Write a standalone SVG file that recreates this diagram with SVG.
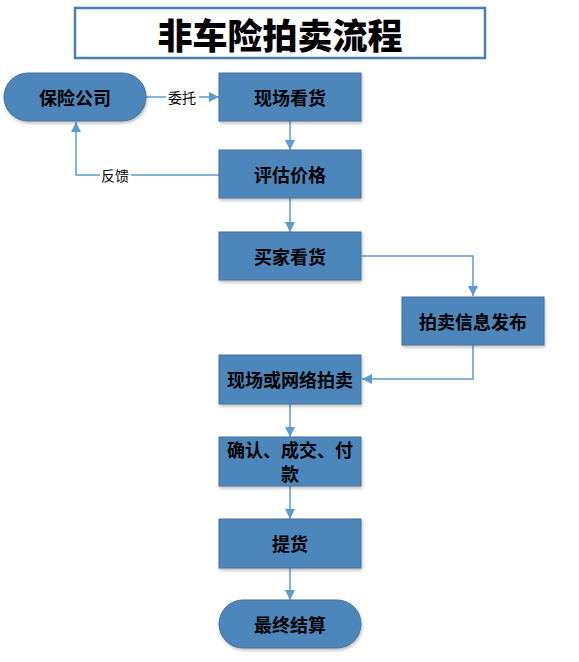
<svg xmlns="http://www.w3.org/2000/svg" width="579" height="662" viewBox="0 0 579 662">
<defs>
<marker id="arr" viewBox="0 0 10 10" refX="10" refY="5" markerWidth="10" markerHeight="10" markerUnits="userSpaceOnUse" orient="auto">
<path d="M0,0 L10,5 L0,10 z" fill="#5b9bd5"/>
</marker>
<filter id="sh" x="-10%" y="-10%" width="125%" height="130%">
<feDropShadow dx="1" dy="2" stdDeviation="1.5" flood-color="#000" flood-opacity="0.25"/>
</filter>
</defs>
<style>
.n{fill:#4e86ba;stroke:#41719c;stroke-width:1;filter:url(#sh)}
.t{font-family:"Noto Sans CJK SC","Microsoft YaHei",sans-serif;font-weight:bold;font-size:18px;fill:#000;text-anchor:middle;dominant-baseline:central}
.c{fill:none;stroke:#5b9bd5;stroke-width:1.5;marker-end:url(#arr)}
.l{font-family:"Noto Sans CJK SC",sans-serif;font-size:14px;fill:#000;text-anchor:middle;dominant-baseline:central}
</style>
<rect width="579" height="662" fill="#fff"/>
<g id="title">
<rect x="75" y="8" width="410" height="50" fill="#fff" stroke="#4a7fb0" stroke-width="2.5"/>
<text x="280" y="33" class="t" style="font-size:35px;font-weight:900">非车险拍卖流程</text>
</g>
<g id="connectors">
<line x1="146" y1="97" x2="219" y2="97" class="c"/>
<line x1="290" y1="121" x2="290" y2="150" class="c"/>
<line x1="290" y1="198" x2="290" y2="232" class="c"/>
<polyline points="361,256 473,256 473,296" class="c"/>
<polyline points="473,345 473,379 362,379" class="c"/>
<line x1="290" y1="404" x2="290" y2="437" class="c"/>
<line x1="290" y1="486" x2="290" y2="519" class="c"/>
<line x1="290" y1="568" x2="290" y2="600" class="c"/>
<polyline points="219,175 76,175 76,122" class="c"/>
<rect x="166" y="89" width="33" height="16" fill="#fff"/>
<text x="182" y="97" class="l">委托</text>
<rect x="100" y="167" width="31" height="16" fill="#fff"/>
<text x="115" y="175" class="l">反馈</text>
</g>
<g id="n1"><rect x="4" y="73" width="142" height="48" rx="24" class="n"/><text x="75" y="97" class="t">保险公司</text></g>
<g id="n2"><rect x="219" y="73" width="142" height="48" class="n"/><text x="290" y="97" class="t">现场看货</text></g>
<g id="n3"><rect x="219" y="150" width="142" height="48" class="n"/><text x="290" y="174" class="t">评估价格</text></g>
<g id="n4"><rect x="219" y="232" width="142" height="48" class="n"/><text x="290" y="256" class="t">买家看货</text></g>
<g id="n5"><rect x="402" y="297" width="142" height="48" class="n"/><text x="473" y="321" class="t">拍卖信息发布</text></g>
<g id="n6"><rect x="219" y="355" width="142" height="49" class="n"/><text x="290" y="379" class="t">现场或网络拍卖</text></g>
<g id="n7"><rect x="219" y="437" width="142" height="49" class="n"/><text x="290" y="449" class="t">确认、成交、付</text><text x="290" y="473" class="t">款</text></g>
<g id="n8"><rect x="219" y="519" width="142" height="49" class="n"/><text x="290" y="543" class="t">提货</text></g>
<g id="n9"><rect x="219" y="600" width="142" height="48" rx="24" class="n"/><text x="290" y="624" class="t">最终结算</text></g>
</svg>
